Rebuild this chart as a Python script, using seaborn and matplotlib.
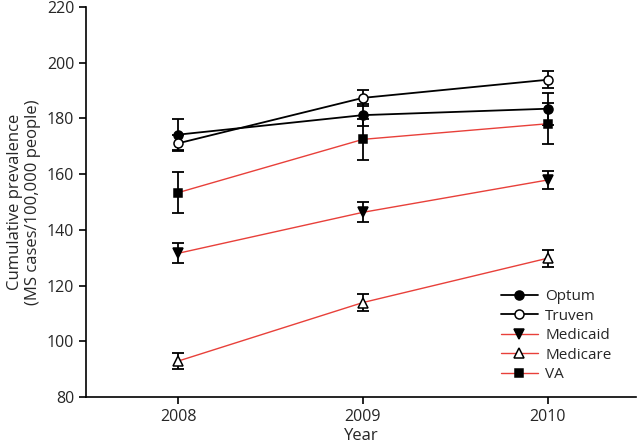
import matplotlib
matplotlib.use("Agg")
import matplotlib.pyplot as plt
import seaborn as sns
import pandas as pd
from matplotlib.lines import Line2D

years = [2008, 2009, 2010]
series = ["Optum", "Truven", "Medicaid", "Medicare", "VA"]
optum = [174.2, 181.2, 183.5]
optum_err = [5.6, 4.0, 5.7]
truven = [171.1, 187.4, 193.9]
truven_err = [2.8, 2.9, 3.1]
medicaid = [131.6, 146.3, 157.9]
medicaid_err = [3.5, 3.6, 3.4]
medicare = [92.9, 113.9, 129.8]
medicare_err = [2.7, 2.9, 3.0]
va = [153.4, 172.5, 178.1]
va_err = [7.2, 7.4, 7.4]

values = [optum, truven, medicaid, medicare, va]
errors = [optum_err, truven_err, medicaid_err, medicare_err, va_err]

sns.set_style("ticks")
plt.rcParams['font.family'] = ['Open Sans', 'DejaVu Sans']

rows = []
for s, v, e in zip(series, values, errors):
    for y, val, err in zip(years, v, e):
        rows.append({"Year": y, "Series": s, "Value": val, "Err": err})
df = pd.DataFrame(rows)

red = "#e8403a"
styles = {
    "Optum": dict(color="black", marker="o", mfc="black", lw=1.3, ms=6.5),
    "Truven": dict(color="black", marker="o", mfc="white", lw=1.3, ms=6.5),
    "Medicaid": dict(color=red, marker="v", mfc="black", lw=1.0, ms=7),
    "Medicare": dict(color=red, marker="^", mfc="white", lw=1.0, ms=7),
    "VA": dict(color=red, marker="s", mfc="black", lw=1.0, ms=6),
}

fig = plt.figure(figsize=(6.38, 4.43), dpi=100)
ax = fig.add_axes([0.135, 0.104, 0.862, 0.880])

for s in series:
    st = styles[s]
    d = df[df.Series == s]
    ax.errorbar(d.Year, d.Value, yerr=d.Err, fmt="none", ecolor="black",
                elinewidth=1.3, capsize=4.5, capthick=1.3, zorder=3)
    sns.lineplot(data=d, x="Year", y="Value", ax=ax, color=st["color"],
                 lw=st["lw"], marker=st["marker"], markersize=st["ms"],
                 markerfacecolor=st["mfc"], markeredgecolor="black",
                 markeredgewidth=1.1, zorder=4, legend=False)

handles = [Line2D([0], [0], color=styles[s]["color"], lw=styles[s]["lw"],
                  marker=styles[s]["marker"], markersize=styles[s]["ms"],
                  markerfacecolor=styles[s]["mfc"], markeredgecolor="black",
                  markeredgewidth=1.1) for s in series]
ax.legend(handles, series, loc="lower right", bbox_to_anchor=(0.975, 0.01),
          frameon=False, fontsize=11, handlelength=2.4, labelspacing=0.3,
          handletextpad=0.5, borderpad=0.2)

ax.set_xlim(2007.5, 2010.48)
ax.set_ylim(80, 220)
ax.set_xticks(years)
ax.set_xticklabels([str(y) for y in years])
ax.set_yticks(range(80, 221, 20))
ax.set_xlabel("Year", fontsize=12, labelpad=2)
ax.set_ylabel("Cumulative prevalence\n(MS cases/100,000 people)", fontsize=12,
              labelpad=4)
ax.tick_params(labelsize=11.5, length=5, width=1.2, color="black")
sns.despine(ax=ax)
for sp in ["left", "bottom"]:
    ax.spines[sp].set_linewidth(1.2)
    ax.spines[sp].set_color("black")

fig.savefig("out.png", dpi=100)
